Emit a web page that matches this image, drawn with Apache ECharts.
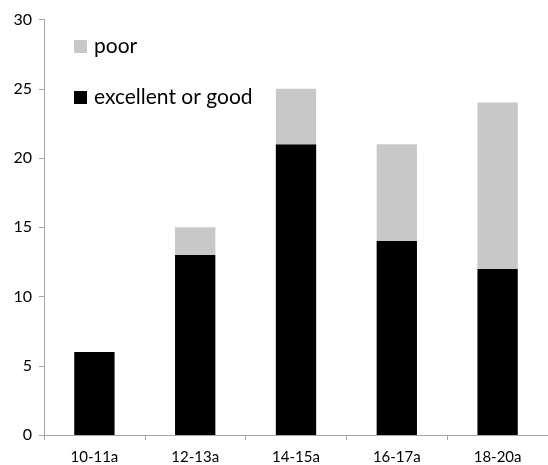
<!DOCTYPE html>
<html>
<head>
<meta charset="utf-8">
<script src="https://cdn.jsdelivr.net/npm/echarts@6/dist/echarts.min.js"></script>
<style>html,body{margin:0;padding:0;background:#fff;}#c{width:548px;height:465px;}</style>
</head>
<body>
<div id="c"></div>
<script>
const categories = ['10-11a', '12-13a', '14-15a', '16-17a', '18-20a'];
const excellentOrGood = [6, 13, 21, 14, 12];
const poor = [0, 2, 4, 7, 12];
const yTicks = [0, 5, 10, 15, 20, 25, 30];

const chart = echarts.init(document.getElementById('c'), null, {renderer: 'canvas'});
const fontFamily = 'Lato, "Liberation Sans", sans-serif';
chart.setOption({
  animation: false,
  backgroundColor: '#ffffff',
  textStyle: {fontFamily: fontFamily},
  grid: {left: 44, top: 19.5, width: 508.5, height: 416.5, containLabel: false},
  legend: {
    orient: 'vertical',
    left: 74,
    top: 36,
    padding: 0,
    itemWidth: 13,
    itemHeight: 13,
    itemGap: 30,
    icon: 'rect',
    data: ['poor', 'excellent or good'],
    textStyle: {fontSize: 21, lineHeight: 13, color: '#000', fontFamily: fontFamily, padding: [0, 0, 0, 2]}
  },
  xAxis: {
    type: 'category',
    data: categories,
    axisLine: {lineStyle: {color: '#a6a6a6', width: 1}},
    axisTick: {show: true, length: 5, lineStyle: {color: '#a6a6a6'}},
    axisLabel: {color: '#000', fontSize: 15, margin: 15, fontFamily: fontFamily},
    splitLine: {show: false}
  },
  yAxis: {
    type: 'value',
    min: yTicks[0],
    max: yTicks[yTicks.length - 1],
    interval: 5,
    axisLine: {show: true, lineStyle: {color: '#a6a6a6', width: 1}},
    axisTick: {show: true, length: 5, lineStyle: {color: '#a6a6a6'}},
    axisLabel: {color: '#000', fontSize: 16, margin: 12, fontFamily: fontFamily},
    splitLine: {show: false}
  },
  series: [
    {
      name: 'excellent or good',
      type: 'bar',
      stack: 'total',
      data: excellentOrGood,
      barWidth: '40%',
      itemStyle: {color: '#000000'}
    },
    {
      name: 'poor',
      type: 'bar',
      stack: 'total',
      data: poor,
      barWidth: '40%',
      itemStyle: {color: '#c8c8c8'}
    }
  ]
});
</script>
</body>
</html>
